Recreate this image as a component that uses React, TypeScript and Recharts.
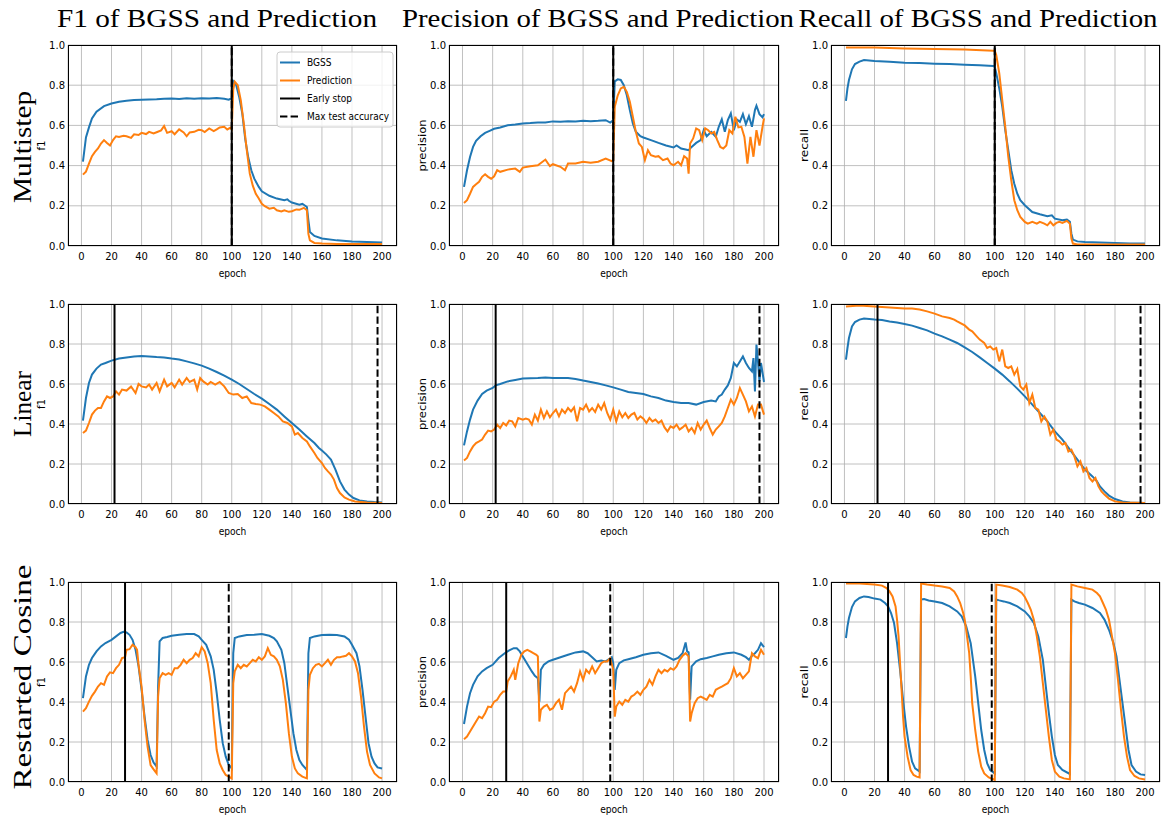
import React from 'react';
import { LineChart, Line, XAxis, YAxis, CartesianGrid, ReferenceLine } from 'recharts';

type P = [number, number][];

// ---------- tick labels / categories ----------
const X_TICKS = [0, 20, 40, 60, 80, 100, 120, 140, 160, 180, 200];
const Y_TICKS = [0, 0.2, 0.4, 0.6, 0.8, 1.0];
const COL_TITLES = ['F1 of BGSS and Prediction', 'Precision of BGSS and Prediction', 'Recall of BGSS and Prediction'];
const ROW_TITLES = ['Multistep', 'Linear', 'Restarted Cosine'];
const Y_LABELS = ['f1', 'precision', 'recall'];
const LEGEND_LABELS = ['BGSS', 'Prediction', 'Early stop', 'Max test accuracy'];
const EARLY_STOP = [100, 22, 29];
const MAX_TEST_ACC = [100, 197, 98];

// ---------- Multistep ----------
const msF1Bgss: P = [[1,0.42],[3,0.54],[5,0.59],[7,0.635],[10,0.668],[15,0.696],[20,0.709],[25,0.718],[30,0.723],[35,0.726],[40,0.728],[45,0.729],[50,0.73],[55,0.732],[60,0.734],[65,0.731],[70,0.735],[75,0.733],[80,0.735],[85,0.734],[90,0.736],[95,0.733],[98,0.728],[100,0.735],[101,0.82],[103,0.8],[105,0.74],[107,0.66],[109,0.53],[111,0.44],[113,0.377],[115,0.335],[118,0.294],[120,0.272],[125,0.25],[130,0.236],[135,0.228],[137,0.232],[138,0.225],[140,0.216],[145,0.206],[147,0.21],[150,0.194],[151,0.128],[152,0.07],[155,0.05],[160,0.037],[170,0.028],[180,0.023],[190,0.02],[200,0.018]];
const msF1Pred: P = [[1,0.355],[3,0.37],[5,0.41],[7,0.447],[9,0.468],[11,0.485],[13,0.51],[15,0.527],[17,0.513],[19,0.5],[21,0.527],[23,0.546],[25,0.543],[28,0.548],[30,0.546],[33,0.538],[35,0.556],[38,0.552],[40,0.563],[43,0.557],[45,0.568],[48,0.56],[50,0.566],[53,0.575],[55,0.597],[57,0.563],[60,0.571],[62,0.556],[65,0.58],[68,0.565],[70,0.546],[72,0.565],[75,0.568],[78,0.578],[80,0.576],[82,0.567],[85,0.585],[88,0.572],[90,0.58],[92,0.59],[95,0.593],[97,0.58],[99,0.588],[100,0.58],[101,0.78],[102,0.817],[104,0.8],[106,0.726],[108,0.61],[110,0.477],[112,0.36],[114,0.3],[116,0.26],[118,0.236],[120,0.21],[122,0.198],[125,0.186],[128,0.19],[130,0.178],[133,0.172],[135,0.178],[138,0.17],[140,0.173],[143,0.182],[145,0.18],[148,0.19],[150,0.178],[151,0.06],[152,0.028],[155,0.015],[160,0.012],[170,0.01],[200,0.01]];
const msPrecBgss: P = [[1,0.294],[3,0.377],[5,0.443],[7,0.493],[9,0.523],[12,0.546],[15,0.563],[18,0.573],[21,0.583],[25,0.59],[30,0.601],[35,0.605],[40,0.61],[45,0.612],[50,0.615],[55,0.614],[60,0.62],[65,0.618],[70,0.621],[75,0.62],[80,0.623],[85,0.621],[90,0.623],[95,0.626],[98,0.614],[100,0.626],[101,0.819],[103,0.829],[105,0.826],[107,0.8],[109,0.75],[111,0.676],[113,0.61],[115,0.568],[118,0.546],[120,0.54],[125,0.527],[130,0.513],[135,0.5],[140,0.49],[142,0.5],[145,0.485],[148,0.48],[150,0.477],[152,0.493],[155,0.513],[158,0.527],[160,0.576],[162,0.546],[165,0.568],[168,0.543],[170,0.593],[172,0.63],[174,0.568],[176,0.626],[178,0.66],[180,0.576],[182,0.63],[184,0.618],[186,0.656],[188,0.606],[190,0.646],[192,0.593],[194,0.676],[195,0.698],[197,0.656],[199,0.64],[200,0.656]];
const msPrecPred: P = [[1,0.214],[3,0.228],[5,0.26],[7,0.294],[9,0.307],[11,0.319],[13,0.344],[15,0.357],[17,0.344],[19,0.335],[21,0.347],[23,0.377],[25,0.369],[30,0.38],[35,0.385],[38,0.369],[40,0.39],[45,0.397],[50,0.402],[55,0.43],[58,0.397],[60,0.407],[65,0.394],[68,0.377],[70,0.41],[75,0.41],[80,0.419],[85,0.414],[90,0.419],[95,0.435],[99,0.422],[100,0.427],[101,0.693],[103,0.75],[105,0.784],[107,0.792],[109,0.767],[111,0.718],[113,0.643],[115,0.568],[117,0.51],[119,0.493],[121,0.427],[123,0.477],[125,0.452],[128,0.444],[130,0.447],[133,0.427],[136,0.435],[138,0.41],[140,0.402],[143,0.419],[145,0.402],[147,0.447],[149,0.435],[150,0.36],[151,0.51],[153,0.535],[155,0.585],[157,0.576],[159,0.527],[161,0.585],[163,0.576],[165,0.56],[167,0.568],[169,0.527],[171,0.493],[173,0.485],[175,0.5],[177,0.576],[179,0.56],[181,0.643],[183,0.59],[185,0.593],[187,0.543],[189,0.41],[190,0.477],[191,0.543],[193,0.444],[195,0.576],[197,0.5],[199,0.593],[200,0.635]];
const msRecBgss: P = [[1,0.722],[2,0.784],[3,0.826],[5,0.879],[7,0.905],[10,0.917],[13,0.925],[20,0.92],[30,0.917],[40,0.912],[50,0.91],[60,0.907],[70,0.905],[80,0.902],[90,0.899],[99,0.895],[100,0.892],[101,0.86],[103,0.784],[105,0.693],[107,0.576],[109,0.477],[111,0.377],[113,0.31],[115,0.26],[117,0.228],[120,0.203],[125,0.169],[130,0.158],[135,0.148],[138,0.153],[140,0.136],[145,0.128],[148,0.131],[150,0.12],[151,0.061],[152,0.032],[155,0.023],[160,0.02],[170,0.017],[180,0.015],[190,0.013],[200,0.012]];
const msRecPred: P = [[1,0.988],[20,0.988],[40,0.983],[60,0.98],[80,0.978],[99,0.972],[100,0.972],[101,0.95],[103,0.86],[105,0.726],[107,0.593],[109,0.444],[111,0.327],[113,0.228],[115,0.178],[117,0.145],[119,0.128],[120,0.12],[122,0.111],[125,0.12],[128,0.111],[130,0.12],[133,0.111],[135,0.103],[137,0.12],[139,0.103],[141,0.115],[143,0.12],[145,0.115],[148,0.125],[150,0.111],[151,0.037],[152,0.012],[155,0.007],[200,0.007]];

// ---------- Linear ----------
const lnF1Bgss: P = [[1,0.417],[3,0.53],[5,0.605],[7,0.647],[10,0.677],[13,0.697],[16,0.705],[20,0.717],[25,0.727],[30,0.733],[35,0.738],[40,0.74],[45,0.738],[50,0.735],[55,0.733],[60,0.727],[65,0.722],[70,0.713],[75,0.703],[80,0.692],[85,0.677],[90,0.66],[95,0.642],[100,0.622],[105,0.6],[110,0.575],[115,0.55],[120,0.527],[125,0.5],[130,0.472],[135,0.438],[140,0.405],[145,0.372],[150,0.338],[155,0.305],[158,0.28],[160,0.267],[163,0.247],[166,0.222],[169,0.172],[172,0.113],[175,0.072],[178,0.047],[181,0.03],[185,0.018],[190,0.013],[195,0.01],[200,0.008]];
const lnF1Pred: P = [[1,0.355],[3,0.367],[5,0.405],[7,0.447],[9,0.467],[11,0.48],[13,0.48],[15,0.513],[17,0.538],[19,0.53],[21,0.538],[23,0.563],[25,0.547],[27,0.572],[30,0.567],[33,0.588],[36,0.555],[38,0.6],[40,0.588],[43,0.583],[45,0.597],[47,0.572],[50,0.605],[52,0.563],[55,0.622],[57,0.588],[60,0.605],[62,0.583],[65,0.622],[67,0.597],[70,0.63],[72,0.61],[75,0.622],[77,0.572],[79,0.63],[81,0.613],[84,0.597],[86,0.61],[89,0.597],[92,0.61],[95,0.588],[98,0.555],[101,0.547],[104,0.55],[107,0.53],[110,0.538],[113,0.505],[116,0.5],[119,0.497],[122,0.488],[125,0.472],[128,0.455],[131,0.438],[134,0.413],[137,0.405],[140,0.388],[142,0.347],[144,0.355],[147,0.33],[150,0.313],[152,0.288],[155,0.255],[157,0.23],[160,0.205],[162,0.18],[164,0.163],[166,0.147],[168,0.122],[170,0.08],[172,0.055],[175,0.033],[178,0.022],[182,0.013],[190,0.008],[200,0.005]];
const lnPrecBgss: P = [[1,0.293],[3,0.363],[5,0.422],[7,0.472],[10,0.517],[13,0.55],[16,0.567],[20,0.58],[22,0.593],[25,0.6],[30,0.613],[35,0.62],[40,0.627],[50,0.63],[55,0.633],[60,0.63],[65,0.63],[70,0.63],[75,0.625],[80,0.617],[85,0.61],[90,0.602],[95,0.593],[100,0.583],[105,0.572],[110,0.56],[115,0.555],[120,0.55],[125,0.538],[130,0.53],[135,0.517],[140,0.51],[145,0.505],[150,0.505],[155,0.497],[160,0.51],[165,0.517],[168,0.513],[170,0.538],[172,0.547],[174,0.572],[176,0.593],[178,0.63],[180,0.705],[182,0.688],[184,0.713],[186,0.738],[188,0.705],[190,0.68],[192,0.663],[193,0.73],[194,0.563],[195,0.797],[196,0.713],[197,0.613],[198,0.705],[200,0.61]];
const lnPrecPred: P = [[1,0.217],[3,0.23],[5,0.263],[7,0.288],[9,0.305],[11,0.313],[13,0.322],[15,0.347],[17,0.367],[19,0.363],[21,0.372],[23,0.397],[25,0.38],[27,0.405],[29,0.393],[31,0.417],[33,0.413],[35,0.388],[37,0.43],[40,0.422],[42,0.427],[44,0.422],[46,0.397],[48,0.447],[50,0.417],[52,0.472],[54,0.43],[56,0.463],[58,0.433],[60,0.455],[62,0.472],[64,0.438],[66,0.472],[68,0.455],[70,0.48],[72,0.463],[74,0.483],[76,0.413],[78,0.48],[80,0.472],[82,0.497],[84,0.463],[86,0.48],[88,0.46],[90,0.497],[92,0.472],[94,0.505],[96,0.455],[98,0.422],[100,0.472],[102,0.413],[104,0.463],[106,0.433],[108,0.455],[110,0.43],[112,0.447],[114,0.455],[116,0.422],[118,0.438],[120,0.427],[122,0.405],[124,0.43],[126,0.413],[128,0.422],[130,0.405],[132,0.417],[134,0.383],[136,0.363],[138,0.388],[140,0.38],[142,0.397],[144,0.372],[146,0.383],[148,0.397],[150,0.363],[152,0.38],[154,0.355],[156,0.405],[158,0.372],[160,0.397],[162,0.417],[164,0.38],[166,0.347],[168,0.372],[170,0.388],[172,0.405],[174,0.438],[176,0.48],[178,0.522],[180,0.497],[182,0.53],[184,0.58],[186,0.547],[188,0.513],[190,0.463],[192,0.488],[194,0.438],[196,0.497],[198,0.497],[200,0.447]];
const lnRecBgss: P = [[1,0.722],[2,0.78],[3,0.83],[5,0.888],[7,0.91],[10,0.922],[13,0.927],[20,0.922],[25,0.92],[30,0.913],[35,0.907],[40,0.9],[45,0.892],[50,0.88],[55,0.868],[60,0.852],[65,0.838],[70,0.822],[75,0.805],[80,0.783],[85,0.76],[90,0.733],[95,0.705],[100,0.677],[105,0.647],[110,0.613],[115,0.577],[120,0.538],[125,0.497],[130,0.455],[135,0.413],[140,0.363],[145,0.322],[150,0.272],[155,0.222],[160,0.172],[165,0.138],[168,0.113],[170,0.088],[173,0.063],[176,0.042],[180,0.025],[185,0.013],[190,0.008],[200,0.005]];
const lnRecPred: P = [[1,0.988],[10,0.992],[20,0.988],[30,0.983],[40,0.977],[45,0.977],[50,0.972],[55,0.963],[60,0.952],[65,0.938],[70,0.93],[73,0.922],[75,0.913],[80,0.893],[83,0.872],[85,0.863],[88,0.838],[90,0.822],[93,0.805],[95,0.78],[97,0.788],[99,0.772],[101,0.78],[103,0.713],[105,0.772],[107,0.688],[109,0.68],[111,0.688],[113,0.647],[115,0.675],[117,0.588],[119,0.572],[121,0.597],[123,0.505],[125,0.547],[127,0.48],[129,0.472],[131,0.413],[133,0.438],[135,0.413],[137,0.347],[139,0.372],[141,0.322],[143,0.313],[145,0.297],[147,0.305],[149,0.263],[151,0.272],[153,0.238],[155,0.188],[157,0.213],[159,0.163],[161,0.18],[163,0.13],[165,0.113],[167,0.13],[169,0.088],[171,0.063],[173,0.047],[176,0.027],[180,0.013],[185,0.007],[200,0.005]];

// ---------- Restarted Cosine ----------
const csF1Bgss: P = [[1,0.419],[3,0.528],[5,0.586],[7,0.62],[10,0.653],[13,0.678],[16,0.695],[20,0.711],[23,0.728],[26,0.745],[28,0.751],[30,0.748],[32,0.736],[34,0.711],[36,0.661],[38,0.578],[40,0.461],[42,0.327],[44,0.21],[46,0.135],[48,0.097],[50,0.077],[51,0.477],[52,0.703],[54,0.72],[57,0.725],[60,0.731],[65,0.736],[70,0.74],[75,0.74],[78,0.728],[80,0.711],[83,0.686],[86,0.628],[88,0.561],[90,0.444],[92,0.31],[94,0.194],[96,0.127],[98,0.085],[100,0.068],[101,0.644],[102,0.72],[105,0.728],[110,0.735],[115,0.736],[120,0.74],[125,0.731],[128,0.72],[130,0.703],[133,0.661],[135,0.594],[137,0.477],[139,0.361],[141,0.244],[143,0.16],[145,0.11],[147,0.085],[150,0.06],[151,0.644],[152,0.72],[155,0.728],[160,0.735],[165,0.736],[170,0.735],[175,0.728],[178,0.711],[180,0.686],[183,0.644],[185,0.578],[187,0.461],[189,0.327],[191,0.194],[193,0.127],[195,0.093],[197,0.073],[200,0.068]];
const csF1Pred: P = [[1,0.352],[3,0.369],[5,0.402],[7,0.431],[9,0.452],[11,0.477],[13,0.494],[15,0.486],[17,0.528],[19,0.548],[21,0.544],[23,0.569],[25,0.586],[27,0.62],[29,0.624],[30,0.661],[32,0.664],[34,0.686],[36,0.674],[37,0.661],[38,0.586],[40,0.477],[42,0.31],[44,0.177],[46,0.085],[48,0.063],[50,0.043],[51,0.427],[52,0.519],[54,0.544],[56,0.536],[58,0.544],[60,0.536],[62,0.569],[64,0.569],[66,0.586],[68,0.611],[70,0.594],[72,0.611],[74,0.62],[76,0.644],[78,0.628],[80,0.674],[82,0.653],[84,0.594],[86,0.494],[88,0.31],[90,0.16],[92,0.093],[94,0.06],[96,0.035],[98,0.027],[100,0.018],[101,0.494],[102,0.553],[104,0.586],[106,0.569],[108,0.586],[110,0.578],[112,0.594],[114,0.611],[116,0.603],[118,0.624],[120,0.611],[122,0.628],[124,0.669],[126,0.636],[128,0.628],[130,0.611],[132,0.578],[134,0.511],[136,0.394],[138,0.244],[140,0.127],[142,0.068],[144,0.043],[147,0.027],[150,0.018],[151,0.461],[152,0.536],[154,0.569],[156,0.586],[158,0.591],[160,0.578],[162,0.594],[164,0.611],[166,0.586],[168,0.611],[170,0.624],[172,0.624],[174,0.628],[176,0.631],[178,0.644],[180,0.628],[182,0.603],[184,0.544],[186,0.427],[188,0.277],[190,0.152],[192,0.085],[195,0.043],[198,0.023],[200,0.018]];
const csPrecBgss: P = [[1,0.29],[3,0.377],[5,0.444],[7,0.486],[10,0.528],[13,0.553],[16,0.569],[20,0.586],[24,0.62],[28,0.644],[31,0.658],[34,0.669],[36,0.669],[38,0.653],[40,0.628],[42,0.603],[44,0.578],[46,0.553],[48,0.531],[50,0.519],[51,0.402],[52,0.561],[54,0.586],[57,0.603],[60,0.611],[65,0.624],[70,0.636],[75,0.648],[80,0.653],[83,0.644],[86,0.624],[89,0.603],[92,0.608],[95,0.603],[97,0.614],[99,0.624],[100,0.594],[101,0.461],[102,0.561],[104,0.594],[107,0.608],[110,0.614],[115,0.624],[120,0.636],[125,0.644],[130,0.648],[135,0.631],[140,0.611],[143,0.62],[146,0.644],[148,0.698],[149,0.653],[150,0.648],[151,0.411],[152,0.578],[155,0.603],[158,0.614],[162,0.62],[166,0.628],[170,0.636],[175,0.644],[180,0.648],[185,0.636],[188,0.624],[190,0.611],[192,0.631],[194,0.644],[196,0.661],[198,0.694],[200,0.674]];
const csPrecPred: P = [[1,0.214],[3,0.227],[5,0.252],[7,0.277],[9,0.302],[11,0.327],[13,0.319],[15,0.344],[17,0.377],[19,0.374],[21,0.402],[23,0.411],[25,0.436],[27,0.452],[29,0.452],[30,0.503],[32,0.528],[34,0.561],[35,0.511],[37,0.594],[39,0.636],[41,0.653],[43,0.661],[45,0.653],[47,0.644],[49,0.636],[50,0.628],[51,0.302],[52,0.361],[54,0.377],[56,0.386],[58,0.361],[60,0.369],[62,0.394],[64,0.411],[66,0.361],[68,0.444],[70,0.461],[72,0.477],[74,0.452],[76,0.494],[78,0.553],[80,0.511],[82,0.561],[84,0.544],[86,0.578],[88,0.544],[90,0.569],[92,0.594],[94,0.603],[96,0.603],[98,0.619],[100,0.561],[101,0.327],[102,0.377],[104,0.402],[106,0.386],[108,0.411],[110,0.402],[112,0.427],[114,0.436],[116,0.452],[118,0.436],[120,0.461],[122,0.477],[124,0.511],[126,0.486],[128,0.528],[130,0.561],[132,0.544],[134,0.561],[136,0.553],[138,0.569],[140,0.561],[142,0.578],[144,0.611],[146,0.631],[148,0.644],[150,0.628],[151,0.302],[152,0.344],[154,0.394],[156,0.419],[158,0.427],[160,0.419],[162,0.411],[164,0.436],[166,0.427],[168,0.461],[170,0.469],[172,0.477],[174,0.486],[176,0.494],[178,0.519],[180,0.569],[182,0.528],[184,0.544],[186,0.519],[188,0.536],[190,0.553],[192,0.644],[194,0.628],[196,0.619],[198,0.661],[200,0.636]];
const csRecBgss: P = [[1,0.72],[2,0.778],[3,0.82],[5,0.875],[7,0.903],[10,0.92],[13,0.928],[16,0.925],[20,0.917],[24,0.912],[27,0.895],[29,0.878],[31,0.845],[33,0.795],[35,0.694],[37,0.561],[39,0.411],[41,0.277],[43,0.177],[45,0.102],[47,0.068],[50,0.052],[51,0.912],[53,0.915],[56,0.908],[60,0.903],[65,0.895],[70,0.878],[75,0.853],[78,0.828],[81,0.778],[84,0.694],[87,0.528],[89,0.394],[91,0.26],[93,0.16],[95,0.093],[97,0.06],[100,0.043],[101,0.912],[103,0.908],[106,0.903],[110,0.895],[115,0.878],[120,0.853],[123,0.828],[126,0.795],[129,0.728],[132,0.611],[134,0.477],[136,0.344],[138,0.227],[140,0.135],[142,0.085],[145,0.06],[150,0.04],[151,0.912],[153,0.903],[156,0.895],[160,0.887],[165,0.87],[170,0.845],[173,0.812],[176,0.761],[179,0.694],[181,0.628],[183,0.511],[185,0.394],[187,0.277],[189,0.16],[191,0.085],[194,0.052],[197,0.038],[200,0.035]];
const csRecPred: P = [[1,0.992],[10,0.992],[20,0.987],[25,0.982],[28,0.97],[30,0.953],[32,0.928],[34,0.878],[35,0.811],[36,0.728],[37,0.594],[38,0.461],[39,0.327],[40,0.227],[42,0.127],[44,0.06],[46,0.035],[48,0.027],[50,0.023],[51,0.992],[55,0.987],[60,0.982],[65,0.978],[70,0.97],[73,0.953],[75,0.928],[77,0.895],[79,0.845],[80,0.811],[81,0.761],[83,0.644],[84,0.528],[85,0.394],[87,0.26],[89,0.152],[91,0.077],[93,0.043],[96,0.023],[100,0.01],[101,0.987],[105,0.982],[110,0.975],[115,0.962],[118,0.945],[120,0.925],[122,0.895],[124,0.861],[126,0.811],[128,0.728],[130,0.628],[132,0.494],[134,0.361],[136,0.227],[138,0.11],[140,0.052],[143,0.027],[146,0.018],[150,0.013],[151,0.987],[155,0.978],[160,0.97],[165,0.962],[168,0.945],[170,0.928],[172,0.895],[174,0.861],[176,0.811],[178,0.728],[180,0.644],[182,0.511],[184,0.361],[186,0.227],[188,0.127],[190,0.06],[193,0.03],[196,0.018],[200,0.013]];

// ---------- layout ----------
const PLOT_COLS = [{ left: 68, width: 329 }, { left: 449, width: 330 }, { left: 831, width: 329 }];
const PLOT_ROWS = [{ top: 45, height: 201 }, { top: 304, height: 200 }, { top: 582, height: 200 }];
const X_DOMAIN: [number, number] = [-8.95, 209.95];
const BLUE = '#1f77b4';
const ORANGE = '#ff7f0e';
const ML = 60, MT = 10, MR = 4, MB = 30;
const TICK_STYLE = { fontSize: 10, fill: '#000', fontFamily: 'DejaVu Sans' };

const SERIES: P[][][] = [
  [[msF1Bgss, msF1Pred], [msPrecBgss, msPrecPred], [msRecBgss, msRecPred]],
  [[lnF1Bgss, lnF1Pred], [lnPrecBgss, lnPrecPred], [lnRecBgss, lnRecPred]],
  [[csF1Bgss, csF1Pred], [csPrecBgss, csPrecPred], [csRecBgss, csRecPred]],
];

const toRows = (p: P) => p.map(([x, y]) => ({ x, y }));

function Panel({ row, col }: { row: number; col: number }) {
  const c = PLOT_COLS[col];
  const r = PLOT_ROWS[row];
  const [bgss, pred] = SERIES[row][col];
  const W = c.width + ML + MR;
  const H = r.height + MT + MB;
  return (
    <div style={{ position: 'absolute', left: c.left - ML, top: r.top - MT, width: W, height: H }}>
      <LineChart width={W} height={H} margin={{ top: MT, right: MR, bottom: 0, left: 0 }}>
        <CartesianGrid stroke="#b0b0b0" strokeWidth={0.8} />
        <XAxis type="number" dataKey="x" domain={X_DOMAIN} ticks={X_TICKS} interval={0} allowDataOverflow
          height={MB} tickSize={0} tickMargin={7} axisLine={false} tick={TICK_STYLE} />
        <YAxis type="number" dataKey="y" domain={[0, 1]} ticks={Y_TICKS} interval={0} allowDataOverflow
          width={ML} tickSize={0} tickMargin={3} axisLine={false} tick={TICK_STYLE}
          tickFormatter={(v: number) => v.toFixed(1)} />
        <Line data={toRows(bgss)} dataKey="y" type="linear" stroke={BLUE} strokeWidth={2} dot={false} isAnimationActive={false} />
        <Line data={toRows(pred)} dataKey="y" type="linear" stroke={ORANGE} strokeWidth={2} dot={false} isAnimationActive={false} />
        <ReferenceLine x={MAX_TEST_ACC[row]} stroke="#000" strokeWidth={2} strokeDasharray="7.4 3.2" />
        <ReferenceLine x={EARLY_STOP[row]} stroke="#000" strokeWidth={2} />
      </LineChart>
      <div style={{ position: 'absolute', left: ML, top: MT, width: c.width, height: r.height, border: '1px solid #000', boxSizing: 'border-box', pointerEvents: 'none' }} />
    </div>
  );
}

const TITLE_X = [217, 598, 978];
const TITLE_LEN = [320, 392, 359];
const ROW_CY = [147, 404, 677];
const ROW_LEN = [112, 66, 225];
const YLABEL_LEN = [10, 52, 33];
const LEGEND_LEN = [24.6, 45, 45, 82];

export default function App() {
  const panels = [];
  for (let r = 0; r < 3; r++) for (let c = 0; c < 3; c++) panels.push(<Panel key={`${r}-${c}`} row={r} col={c} />);
  const lg = { x: 277, y: 52 };
  return (
    <div style={{ position: 'absolute', left: 0, top: 0, width: 1161, height: 818, overflow: 'hidden', background: '#fff' }}>
      {panels}
      <svg width={1161} height={818} style={{ position: 'absolute', left: 0, top: 0, pointerEvents: 'none' }}>
        {COL_TITLES.map((t, i) => (
          <text key={t} x={TITLE_X[i]} y={27} textAnchor="middle" fontFamily="Liberation Serif" fontSize={25}
            textLength={TITLE_LEN[i]} lengthAdjust="spacingAndGlyphs" fill="#000">{t}</text>
        ))}
        {ROW_TITLES.map((t, i) => (
          <text key={t} x={0} y={0} transform={`translate(31 ${ROW_CY[i]}) rotate(-90)`} textAnchor="middle"
            fontFamily="Liberation Serif" fontSize={25} textLength={ROW_LEN[i]} lengthAdjust="spacingAndGlyphs" fill="#000">{t}</text>
        ))}
        {PLOT_ROWS.map((r, ri) => PLOT_COLS.map((c, ci) => (
          <g key={`lab-${ri}-${ci}`}>
            <text x={c.left + c.width / 2} y={r.top + r.height + 31} textAnchor="middle" fontFamily="DejaVu Sans" fontSize={10}
              textLength={27.7} lengthAdjust="spacingAndGlyphs" fill="#000">epoch</text>
            <text x={0} y={0} transform={`translate(${c.left - 27} ${r.top + r.height / 2}) rotate(-90)`} textAnchor="middle"
              dominantBaseline="central" fontFamily="DejaVu Sans" fontSize={11} textLength={YLABEL_LEN[ci]} lengthAdjust="spacingAndGlyphs" fill="#000">{Y_LABELS[ci]}</text>
          </g>
        )))}
        <g>
          <rect x={lg.x} y={lg.y} width={116} height={75} rx={3} fill="#fff" fillOpacity={0.8} stroke="#cccccc" strokeWidth={1} />
          {LEGEND_LABELS.map((t, i) => {
            const y = lg.y + 10.5 + i * 18;
            const color = i === 0 ? BLUE : i === 1 ? ORANGE : '#000';
            return (
              <g key={t}>
                <line x1={lg.x + 3} x2={lg.x + 23} y1={y} y2={y} stroke={color} strokeWidth={2} strokeDasharray={i === 3 ? '7.4 3.2' : undefined} />
                <text x={lg.x + 30} y={y + 3.5} fontFamily="DejaVu Sans" fontSize={10} textLength={LEGEND_LEN[i]} lengthAdjust="spacingAndGlyphs" fill="#000">{t}</text>
              </g>
            );
          })}
        </g>
      </svg>
    </div>
  );
}
